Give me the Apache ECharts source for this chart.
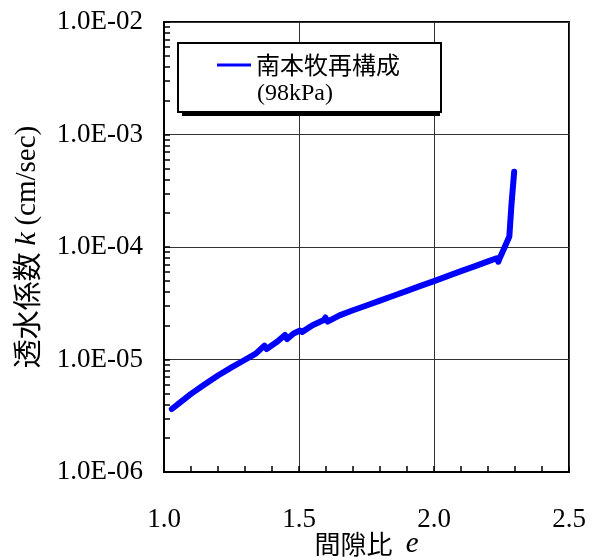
<!DOCTYPE html>
<html>
<head>
<meta charset="utf-8">
<script src="https://cdn.jsdelivr.net/npm/echarts@6/dist/echarts.min.js"></script>
<style>
  html, body { margin: 0; padding: 0; background: #ffffff; }
  #chart { width: 592px; height: 560px; }
</style>
</head>
<body>
<div id="chart"></div>
<script>
// Void ratio e vs. permeability k (cm/sec), reconstituted Minami-Honmoku clay, 98 kPa
const seriesName = '南本牧再構成';
const seriesNote = '(98kPa)';

const voidRatio = [
  1.029, 1.06, 1.10, 1.15, 1.20, 1.25, 1.30, 1.34, 1.372, 1.380,
  1.42, 1.448, 1.456, 1.48, 1.504, 1.512, 1.55, 1.59, 1.598, 1.606,
  1.65, 1.70, 1.75, 1.80, 1.85, 1.90, 1.95, 2.00, 2.05, 2.10,
  2.15, 2.20, 2.232, 2.238, 2.244, 2.262, 2.279, 2.287, 2.297
];
const permeability = [
  3.63e-6, 4.16e-6, 4.95e-6, 6.00e-6, 7.21e-6, 8.51e-6, 9.95e-6, 1.127e-5, 1.33e-5, 1.24e-5,
  1.445e-5, 1.65e-5, 1.52e-5, 1.706e-5, 1.81e-5, 1.76e-5, 2.02e-5, 2.23e-5, 2.36e-5, 2.17e-5,
  2.47e-5, 2.74e-5, 3.02e-5, 3.34e-5, 3.69e-5, 4.07e-5, 4.51e-5, 4.98e-5, 5.51e-5, 6.10e-5,
  6.73e-5, 7.45e-5, 7.94e-5, 7.4e-5, 8.0e-5, 1.0e-4, 1.24e-4, 2.4e-4, 4.66e-4
];

// axis ranges and tick values
const xMin = 1.0, xMax = 2.5, xStep = 0.5;
const yMin = 1e-6, yMax = 1e-2;
const yMinorTickValues = [
  2e-6, 3e-6, 4e-6, 5e-6, 6e-6, 7e-6, 8e-6, 9e-6,
  2e-5, 3e-5, 4e-5, 5e-5, 6e-5, 7e-5, 8e-5, 9e-5,
  2e-4, 3e-4, 4e-4, 5e-4, 6e-4, 7e-4, 8e-4, 9e-4,
  2e-3, 3e-3, 4e-3, 5e-3, 6e-3, 7e-3, 8e-3, 9e-3
];

const SERIF = '"Liberation Serif", "Times New Roman", serif';
const CJK = '"Noto Sans CJK JP", "Noto Sans", sans-serif';

const points = voidRatio.map((e, i) => [e, permeability[i]]);

function sciLabel(v) {
  const p = Math.round(Math.log10(v));
  return '1.0E' + (p < 0 ? '-' : '+') + String(Math.abs(p)).padStart(2, '0');
}

// legend box geometry
const legendBox = { left: 178, top: 43, width: 258, height: 69 };

const chart = echarts.init(document.getElementById('chart'), null, { renderer: 'canvas' });

chart.setOption({
  backgroundColor: '#ffffff',
  animation: false,
  grid: {
    left: 164, top: 22, right: 23, bottom: 88,
    containLabel: false, outerBoundsMode: 'none',
    show: true, borderColor: '#000', borderWidth: 2, backgroundColor: 'transparent'
  },
  legend: {
    left: legendBox.left, top: legendBox.top,
    orient: 'vertical',
    padding: [10, 41, 35, 39],
    backgroundColor: '#ffffff',
    borderColor: '#000', borderWidth: 2,
    icon: 'rect', itemWidth: 34, itemHeight: 3, itemGap: 0,
    textStyle: { fontFamily: CJK, fontSize: 24, color: '#000' },
    data: [seriesName],
    z: 10
  },
  graphic: [{
    // drop shadow behind the legend box
    type: 'rect', z: 5,
    shape: { x: legendBox.left + 4, y: legendBox.top + 4, width: legendBox.width, height: legendBox.height },
    style: { fill: '#000' }
  }, {
    type: 'text', left: 257, top: 82, z: 100,
    style: { text: seriesNote, font: '24px ' + SERIF, fill: '#000' }
  }],
  xAxis: {
    type: 'value', min: xMin, max: xMax, interval: xStep,
    axisLine: { show: true, lineStyle: { color: '#000', width: 2 } },
    axisTick: { show: true, inside: true, length: 6, lineStyle: { color: '#000', width: 1.5 } },
    minorTick: { show: true, splitNumber: 5, length: 6, lineStyle: { color: '#000', width: 1.5 } },
    splitLine: { show: true, lineStyle: { color: '#333', width: 1 } },
    axisLabel: {
      margin: 34, color: '#000', fontFamily: SERIF, fontSize: 27,
      showMinLabel: true, showMaxLabel: true,
      formatter: v => v.toFixed(1)
    },
    name: '{c|間隙比}    {i|e}',
    nameLocation: 'middle', nameGap: 58, nameMoveOverlap: false,
    nameTextStyle: {
      rich: {
        c: { fontFamily: CJK, fontSize: 26, color: '#000' },
        i: { fontFamily: SERIF, fontStyle: 'italic', fontSize: 29, color: '#000' }
      }
    }
  },
  yAxis: [{
    type: 'log', logBase: 10, min: yMin, max: yMax, splitNumber: 4,
    axisLine: { show: true, lineStyle: { color: '#000', width: 2 } },
    axisTick: { show: true, inside: true, length: 6, lineStyle: { color: '#000', width: 1.5 } },
    splitLine: { show: true, lineStyle: { color: '#333', width: 1 } },
    axisLabel: { margin: 21, color: '#000', fontFamily: SERIF, fontSize: 27, formatter: sciLabel },
    name: '{c|透水係数}  {i|k}  {s|(cm/sec)}',
    nameLocation: 'middle', nameRotate: 90, nameGap: 122, nameMoveOverlap: false,
    nameTextStyle: {
      rich: {
        c: { fontFamily: CJK, fontSize: 29, color: '#000' },
        i: { fontFamily: SERIF, fontStyle: 'italic', fontSize: 30, color: '#000' },
        s: { fontFamily: SERIF, fontSize: 29, color: '#000' }
      }
    }
  }, {
    // log-decade minor ticks drawn on a companion linear axis in exponent units
    type: 'value', min: Math.log10(yMin), max: Math.log10(yMax), position: 'left',
    axisLine: { show: false },
    axisLabel: { show: false },
    splitLine: { show: false },
    axisTick: {
      show: true, inside: true, length: 6,
      customValues: yMinorTickValues.map(v => Math.log10(v)),
      lineStyle: { color: '#000', width: 1.5 }
    }
  }],
  series: [{
    name: seriesName,
    type: 'line',
    yAxisIndex: 0,
    data: points,
    showSymbol: false,
    symbol: 'none',
    lineStyle: { color: '#0000ff', width: 6, join: 'round', cap: 'round' },
    itemStyle: { color: '#0000ff' },
    z: 3
  }]
});
</script>
</body>
</html>
